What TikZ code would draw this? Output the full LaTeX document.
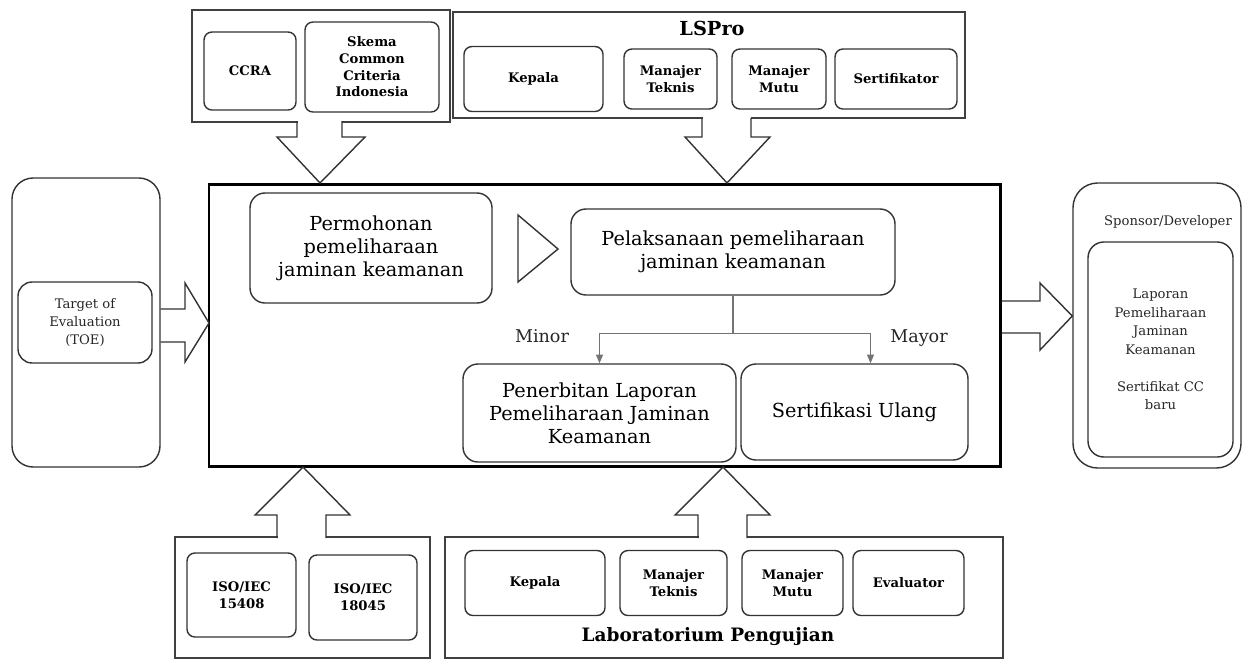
\documentclass[tikz,border=0pt]{standalone}
\usepackage{fontspec}
\setmainfont{DejaVu Serif}
\usetikzlibrary{arrows.meta}

\tikzset{
  grp/.style={draw=black!75, line width=0.9pt},
  card/.style={draw=black!80, line width=0.8pt, rounded corners=4.5pt, align=center,
    inner sep=1pt, font=\bfseries\fontsize{7.5}{9.5}\selectfont},
  proc/.style={draw=black!80, line width=0.8pt, rounded corners=8.5pt, align=center,
    inner sep=1pt, font=\fontsize{11}{13}\selectfont},
  soft/.style={draw=black!80, line width=0.8pt, align=center, inner sep=1pt,
    text=black!85, font=\fontsize{7.5}{10.5}\selectfont},
  fat/.style={draw=black!80, line width=0.8pt, line join=miter},
  link/.style={draw=black!55, line width=0.6pt},
  tag/.style={font=\fontsize{10}{12}\selectfont, text=black!85}
}

\begin{document}
\begin{tikzpicture}[x=0.02cm, y=-0.02cm]
\def\px{0.02cm}
\useasboundingbox (0,0) rectangle (1243,660);

% groups on top
\node[grp, minimum width={258*\px}, minimum height={112*\px}] (ccgrp) at (321,66) {};
\node[card, minimum width={92*\px}, minimum height={78*\px}] (ccra) at (250,71) {CCRA};
\node[card, minimum width={134*\px}, minimum height={90*\px}] (skema) at (372,67)
  {Skema\\Common\\Criteria\\Indonesia};

\node[grp, minimum width={512*\px}, minimum height={106*\px}] (lspro) at (709,65) {};
\node[font=\bfseries\fontsize{11}{13}\selectfont] (lsprotitle) at (712,28) {LSPro};
\foreach \nm/\cx/\w/\h/\txt in {lkep/533.5/139/65/Kepala, lmt/670.5/93/60/{Manajer\\Teknis},
  lmm/779/94/60/{Manajer\\Mutu}, lsert/896/122/60/Sertifikator}
  \node[card, minimum width={\w*\px}, minimum height={\h*\px}] (\nm) at (\cx,79) {\txt};

% main process
\node[draw, line width=1.7pt, minimum width={791*\px}, minimum height={282*\px}] (main) at (604.5,325) {};
\node[proc, minimum width={242*\px}, minimum height={110*\px}] (per) at (371,248)
  {Permohonan\\pemeliharaan\\jaminan keamanan};
\node[proc, minimum width={324*\px}, minimum height={86*\px}] (pel) at (733,252)
  {Pelaksanaan pemeliharaan\\jaminan keamanan};
\node[proc, minimum width={273*\px}, minimum height={98*\px}] (pen) at (599.5,413)
  {Penerbitan Laporan\\Pemeliharaan Jaminan\\Keamanan};
\node[proc, minimum width={227*\px}, minimum height={96*\px}] (ser) at (854.5,412)
  {Sertifikasi Ulang};
\draw[fat] (518,215) -- (558,249) -- (518,282) -- cycle;

\draw[link] (pel.south) -- ++(0,38) coordinate (fork);
\draw[link, -{Triangle[length=5pt, width=4pt]}] (fork) -| (pen.north);
\draw[link, -{Triangle[length=5pt, width=4pt]}] (fork) -| ([xshift={16*\px}]ser.north);
\node[tag] (minor) at (542,336) {Minor};
\node[tag] (mayor) at (919,338) {Mayor};

% left and right
\node[soft, rounded corners=12pt, minimum width={148*\px}, minimum height={289*\px}] (toeout) at (86,322.5) {};
\node[soft, rounded corners=8pt, minimum width={134*\px}, minimum height={81*\px}] (toe) at (85,322.5)
  {Target of\\Evaluation\\(TOE)};
\node[soft, rounded corners=14pt, minimum width={168*\px}, minimum height={285*\px}] (spout) at (1157,325.5) {};
\node[text=black!85, font=\fontsize{7.5}{9}\selectfont] (sptitle) at (1168,222) {Sponsor/Developer};
\node[soft, rounded corners=9pt, minimum width={145*\px}, minimum height={215*\px}] (lap) at (1160.5,349.5)
  {Laporan\\Pemeliharaan\\Jaminan\\Keamanan\\[10.5pt]Sertifikat CC\\baru};

% groups below
\node[grp, minimum width={255*\px}, minimum height={121*\px}] (isogrp) at (302.5,597.5) {};
\node[card, minimum width={109*\px}, minimum height={84*\px}] (iso1) at (241.5,595) {ISO/IEC\\15408};
\node[card, minimum width={108*\px}, minimum height={85*\px}] (iso2) at (363,597.5) {ISO/IEC\\18045};

\node[grp, minimum width={558*\px}, minimum height={121*\px}] (lab) at (724,597.5) {};
\foreach \nm/\cx/\w/\txt in {bkep/535/140/Kepala, bmt/673.5/107/{Manajer\\Teknis},
  bmm/792.5/101/{Manajer\\Mutu}, beval/908.5/111/Evaluator}
  \node[card, minimum width={\w*\px}, minimum height={65*\px}] (\nm) at (\cx,583) {\txt};
\node[font=\bfseries\fontsize{10.5}{12}\selectfont] (labtitle) at (708,637) {Laboratorium Pengujian};

% big arrows
\fill[white] (297.5,118) rectangle (341.5,124);
\draw[fat] (297,121) -- (297,137) -- (277,137) -- (320,183) -- (365,137) -- (342,137) -- (342,121);
\fill[white] (702.5,115) rectangle (750.5,121);
\draw[fat] (702,118) -- (702,137) -- (685,137) -- (727,183) -- (770,137) -- (751,137) -- (751,118);
\fill[white] (277.5,535) rectangle (325.5,540);
\draw[fat] (277,538) -- (277,515) -- (255,515) -- (303,467) -- (350,515) -- (326,515) -- (326,538);
\fill[white] (698.5,535) rectangle (746.5,540);
\draw[fat] (698,538) -- (698,515) -- (675,515) -- (723,467) -- (770,515) -- (747,515) -- (747,538);
\draw[fat] (toeout.east |- 0,309) -- (185,309) -- (185,283) -- (209,323) -- (185,362) -- (185,342) -- (toeout.east |- 0,342);
\draw[fat] (main.east |- 0,301) -- (1040,301) -- (1040,283) -- (spout.west |- 0,316) -- (1040,350) -- (1040,333) -- (main.east |- 0,333);
\end{tikzpicture}
\end{document}
